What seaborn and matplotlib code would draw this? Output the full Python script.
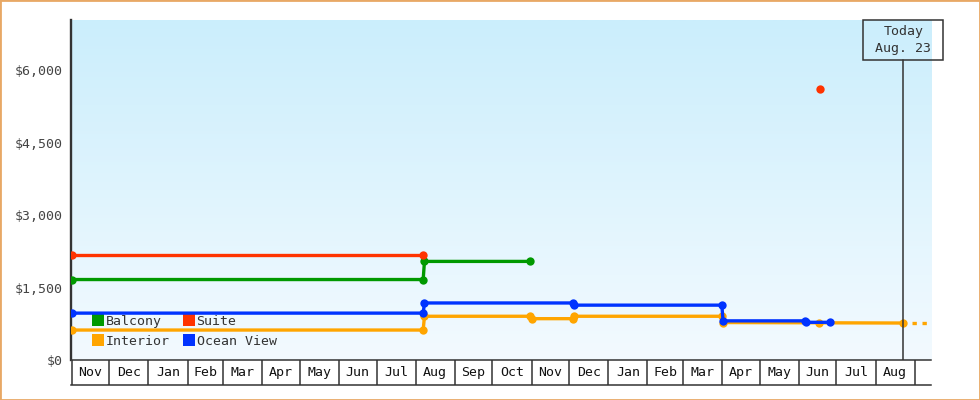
import pandas as pd
import numpy as np
import matplotlib
matplotlib.use("Agg")
import matplotlib.pyplot as plt
import matplotlib.dates as mdates
import matplotlib.transforms as mtransforms
from matplotlib.patches import Rectangle
from matplotlib.lines import Line2D
import seaborn as sns

# --- data ---
balcony_dates = ["2012-11-01", "2013-08-07", "2013-08-08", "2013-10-31"]
balcony_prices = [1665, 1665, 2040, 2040]

suite_dates = ["2012-11-01", "2013-08-07", "2014-06-18"]
suite_prices = [2175, 2175, 5600]
suite_segments = [0, 0, 1]

interior_dates = ["2012-11-01", "2013-08-07", "2013-08-08", "2013-10-31", "2013-11-01",
                  "2013-12-04", "2013-12-05", "2014-04-01", "2014-04-02", "2014-06-17",
                  "2014-08-23"]
interior_prices = [620, 620, 905, 905, 855, 855, 905, 905, 775, 770, 765]

ocean_dates = ["2012-11-01", "2013-08-07", "2013-08-08", "2013-12-04", "2013-12-05",
               "2014-04-01", "2014-04-02", "2014-06-06", "2014-06-07", "2014-06-26"]
ocean_prices = [970, 970, 1180, 1180, 1135, 1135, 810, 810, 780, 780]

projection_dates = ["2014-08-30", "2014-09-11"]
projection_prices = [770, 770]

colors = {"Balcony": "#009900", "Suite": "#ff3300", "Interior": "#ffa500", "Ocean View": "#0033ff"}

ytick_values = [0, 1500, 3000, 4500, 6000]
ytick_labels = ["$0", "$1,500", "$3,000", "$4,500", "$6,000"]

today = pd.Timestamp("2014-08-23")
today_label = "Today\nAug. 23"
x_start = pd.Timestamp("2012-10-31 12:00")
x_end = pd.Timestamp("2014-09-14")
y_max = 7035

# --- long table for seaborn ---
def frame(name, dates, prices, segs=None):
    if segs is None:
        segs = [0] * len(dates)
    return pd.DataFrame({"date": pd.to_datetime(dates), "price": prices,
                         "cabin": name, "seg": [f"{name}-{s}" for s in segs]})

df = pd.concat([
    frame("Balcony", balcony_dates, balcony_prices),
    frame("Suite", suite_dates, suite_prices, suite_segments),
    frame("Interior", interior_dates, interior_prices),
    frame("Ocean View", ocean_dates, ocean_prices),
], ignore_index=True)

sns.set_theme(style="white")
fs = 9.5
plt.rcParams["font.family"] = ["DejaVu Sans Mono", "DejaVu Sans"]
plt.rcParams.update({"font.size": fs, "xtick.labelsize": fs, "ytick.labelsize": fs,
                     "legend.fontsize": fs})
ink = "#333333"

fig = plt.figure(figsize=(9.8, 4.0), dpi=100)
fig.patch.set_facecolor("white")
ax = fig.add_axes([71 / 980, 40 / 400, 860 / 980, 340 / 400])
strip = fig.add_axes([71 / 980, 15 / 400, 860 / 980, 25 / 400], sharex=ax)

# gradient background
grad = np.linspace(0, 1, 256).reshape(-1, 1)
cmap = matplotlib.colors.LinearSegmentedColormap.from_list("bg", ["#cbeefc", "#f3faff"])
ax.imshow(grad, cmap=cmap, aspect="auto", extent=[0, 1, 0, 1],
          transform=ax.transAxes, zorder=0)

for cabin in ["Balcony", "Suite", "Interior", "Ocean View"]:
    sub = df[df["cabin"] == cabin]
    sns.lineplot(data=sub, x="date", y="price", units="seg", estimator=None,
                 sort=False, color=colors[cabin], linewidth=2.4, marker="o",
                 markersize=6, markeredgewidth=0, ax=ax, legend=False, zorder=3)

# projected interior price (dashed)
ax.plot(pd.to_datetime(projection_dates), projection_prices, color=colors["Interior"],
        linewidth=2.4, linestyle=(0, (1.3, 1.7)), zorder=3)

# today marker
ax.axvline(today, ymin=0, ymax=300 / 340, color=ink, linewidth=1.1, zorder=4)
blend = mtransforms.blended_transform_factory(ax.transData, ax.transAxes)
tnum = mdates.date2num(today)
ax.add_patch(Rectangle((tnum - 31.75, 1 - 40 / 340), 63.5, 40 / 340, transform=blend,
                       fill=False, edgecolor=ink, linewidth=1.1, clip_on=False, zorder=5))
ax.text(today, 1 - 20 / 340, today_label, transform=blend, ha="center", va="center",
        linespacing=1.35, color=ink, zorder=5)

ax.set_xlim(x_start, x_end)
ax.set_ylim(0, y_max)
ax.set_yticks(ytick_values, ytick_labels)
ax.tick_params(axis="y", length=4, width=2, color=ink, labelcolor="#444444", pad=2)
ax.tick_params(axis="x", bottom=False, labelbottom=False)
ax.set_xlabel("")
ax.set_ylabel("")
for side in ["top", "right", "bottom"]:
    ax.spines[side].set_visible(False)
ax.spines["left"].set_color(ink)
ax.spines["left"].set_linewidth(1.7)

handles = [Line2D([], [], marker="s", linestyle="none", markersize=8,
                  markeredgewidth=0, color=colors[c]) for c in ["Balcony", "Interior", "Suite", "Ocean View"]]
leg = ax.legend(handles, ["Balcony", "Interior", "Suite", "Ocean View"], ncol=2,
                loc="lower left", bbox_to_anchor=(22 / 860, 0.036), frameon=False,
                borderpad=0, borderaxespad=0, handlelength=0.8, handletextpad=0.2,
                columnspacing=1.0, labelspacing=0.55)
for t in leg.get_texts():
    t.set_color(ink)
leg.set_zorder(2)

# month boxes
months = pd.date_range("2012-11-01", "2014-09-01", freq="MS")
for m in months:
    strip.axvline(m, color=ink, linewidth=1.1)
for m0, m1 in zip(months[:-1], months[1:]):
    strip.text(m0 + (m1 - m0) / 2, 0.5, m0.strftime("%b"), ha="center", va="center",
               color="#111111")
strip.set_ylim(0, 1)
strip.set_yticks([])
strip.tick_params(axis="x", bottom=False, labelbottom=False)
strip.set_facecolor("white")
for side in ["left", "right"]:
    strip.spines[side].set_visible(False)
for side in ["top", "bottom"]:
    strip.spines[side].set_color(ink)
    strip.spines[side].set_linewidth(1.1)

fig.add_artist(Rectangle((0, 0), 1, 1, transform=fig.transFigure, fill=False,
                         edgecolor="#e8a865", linewidth=2))

fig.savefig("out.png", dpi=100)
